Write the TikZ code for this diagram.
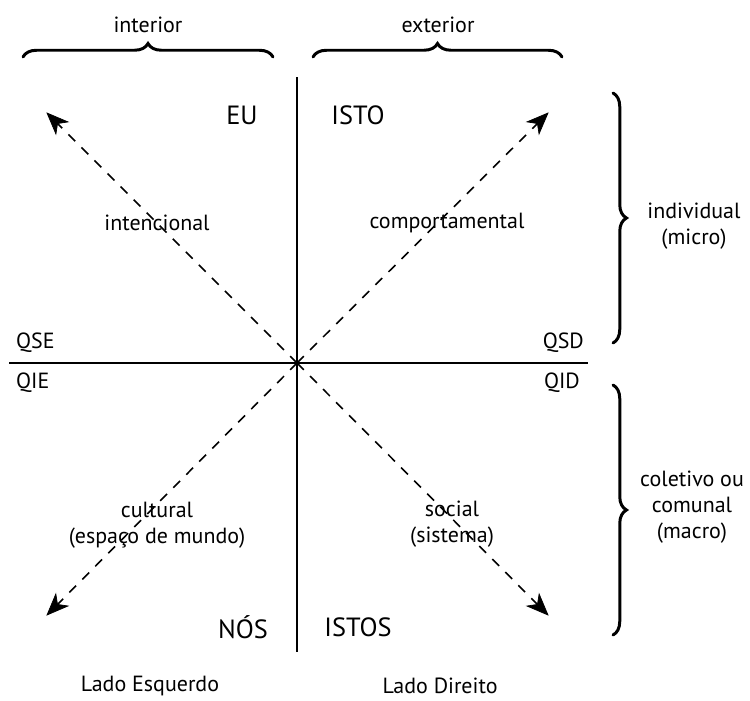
\documentclass[tikz,border=0pt]{standalone}
\usepackage{fontspec}
\setmainfont{PT Sans}
\usetikzlibrary{decorations.pathreplacing,calc}

\begin{document}
\begin{tikzpicture}[x=0.02cm, y=-0.02cm,
    big/.style={font=\fontsize{15}{17}\selectfont},
    small/.style={font=\fontsize{12.5}{15}\selectfont, align=center},
    axis/.style={line width=1.4pt},
    vector/.style={dash pattern=on 5.5pt off 5pt, line width=0.9pt},
    head/.style={fill=black, draw=black, line width=0.4pt, line join=miter},
    bracket/.style={decorate, decoration={brace, amplitude=0.27cm}, line width=1.7pt, line cap=round}]
    \useasboundingbox (0,0) rectangle (750,700);

    \coordinate (O) at (297,363); % centre of the quadrants
    \coordinate (top) at (297,77);
    \coordinate (bottom) at (297,652);
    \coordinate (left) at (9,363);
    \coordinate (right) at (588,363);
    \coordinate (ul) at (47,113);
    \coordinate (ur) at (548,113);
    \coordinate (ll) at (47,615);
    \coordinate (lr) at (548,615);

    \draw [axis] (top) -- (bottom); % vertical axis
    \draw [axis] (left) -- (right); % horizontal axis
    \foreach \tip in {ul,ur,ll,lr} {
        \draw [vector] (O) -- ($(\tip)!8pt!(O)$); % dashed part
        \filldraw [head] (\tip) -- ($(\tip)!13pt!22:(O)$) -- ($(\tip)!8.5pt!(O)$)
            -- ($(\tip)!13pt!-22:(O)$) -- cycle; % arrow tip
    }

    \draw [bracket] (23,57) -- (273,57); % interior
    \draw [bracket] (313,57) -- (562,57); % exterior
    \draw [bracket] (613,93) -- (613,343); % individual
    \draw [bracket] (613,385) -- (613,635); % coletivo

    \node [small] (interior) at (148,25) {interior};
    \node [small] (exterior) at (438,25) {exterior};
    \node [big] (eu) at (242,115) {EU};
    \node [big] (isto) at (358,115) {ISTO};
    \node [big] (nos) at (243,627) {NÓS};
    \node [big] (istos) at (358,627) {ISTOS};
    \node [small] (intencional) at (157,223) {intencional};
    \node [small] (comportamental) at (447,223) {comportamental};
    \node [small] (cultural) at (157,525) {cultural\\(espaço de mundo)};
    \node [small] (social) at (452,524) {social\\(sistema)};
    \node [small] (individual) at (694,226) {individual\\(micro)};
    \node [small] (coletivo) at (692,507) {coletivo ou\\comunal\\(macro)};
    \node [small, anchor=west] (qse) at (10,343) {QSE};
    \node [small, anchor=west] (qie) at (10,383) {QIE};
    \node [small, anchor=east] (qsd) at (590,343) {QSD};
    \node [small, anchor=east] (qid) at (586,383) {QID};
    \node [small] (esquerdo) at (150,686) {Lado Esquerdo};
    \node [small] (direito) at (440,686) {Lado Direito};
\end{tikzpicture}
\end{document}
